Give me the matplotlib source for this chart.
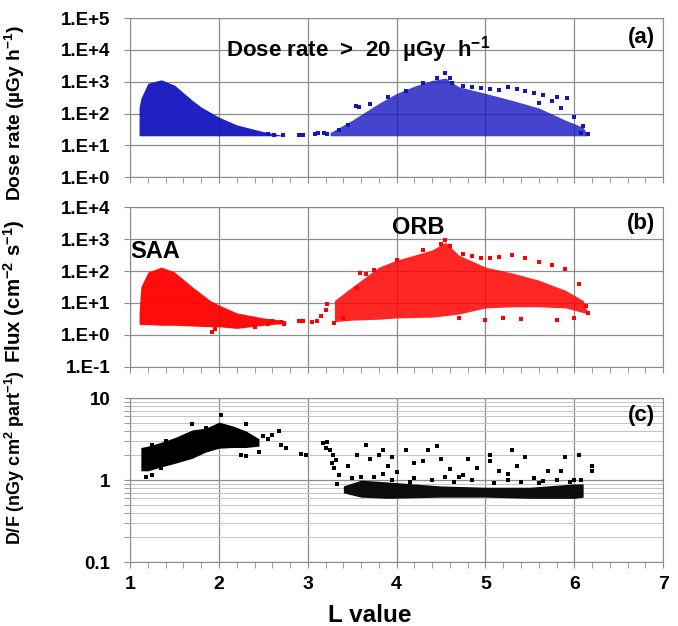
import matplotlib
matplotlib.use("Agg")
import matplotlib.pyplot as plt
from matplotlib.ticker import FixedLocator, NullFormatter, MultipleLocator

plt.rcParams["font.family"] = ["Liberation Sans", "DejaVu Sans"]
plt.rcParams["font.weight"] = "bold"
plt.rcParams["axes.labelweight"] = "bold"
plt.rcParams["mathtext.fontset"] = "custom"
plt.rcParams["mathtext.rm"] = "Liberation Sans:bold"
plt.rcParams["mathtext.bf"] = "Liberation Sans:bold"
plt.rcParams["mathtext.it"] = "Liberation Sans:bold"
plt.rcParams["mathtext.default"] = "bf"

# ---- Data ----
# (a) dose rate envelopes, SAA and outer radiation belt
dose_saa_L = [1.10, 1.12, 1.20, 1.35, 1.50, 1.70, 1.80, 2.00, 2.20, 2.50, 2.70]
dose_saa_hi = [150, 300, 900, 1150, 780, 260, 160, 77, 44, 27, 21]
dose_orb_L = [3.25, 3.50, 3.80, 4.00, 4.20, 4.40, 4.55, 4.70, 5.00, 5.30, 5.60, 5.90, 6.10, 6.15]
dose_orb_hi = [25, 62, 210, 430, 730, 1100, 1300, 700, 430, 260, 150, 62, 37, 21]
dose_floor = 20
dose_pts_L = [2.55, 2.62, 2.72, 2.90, 2.95, 3.08, 3.12, 3.18, 3.22, 3.35, 3.45, 3.54, 3.58, 3.70,
              3.90, 4.10, 4.30, 4.45, 4.55, 4.60, 4.62, 4.75, 4.85, 4.95, 5.05, 5.15, 5.25, 5.35,
              5.45, 5.55, 5.65, 5.80, 5.92, 5.75, 5.60, 5.85, 6.00, 6.10, 6.15, 6.08]
dose_pts_v = [22, 21, 21, 20.5, 20.5, 22, 24, 25, 23, 30, 45, 170, 165, 200,
              320, 500, 900, 1300, 1850, 1300, 900, 750, 700, 650, 600, 560, 700, 600,
              520, 450, 380, 330, 300, 250, 220, 150, 80, 40, 22, 25]

# (b) flux envelopes
flux_saa_L = [1.10, 1.12, 1.20, 1.35, 1.50, 1.70, 1.90, 2.00, 2.20, 2.50, 2.75]
flux_saa_hi = [5, 32, 93, 133, 93, 32, 12, 8.6, 4.9, 3.4, 2.8]
flux_saa_lo = [2.2, 2.1, 2.1, 2.0, 2.0, 1.9, 1.8, 1.8, 1.6, 2.0, 2.3]
flux_orb_L = [3.30, 3.50, 3.80, 4.00, 4.20, 4.40, 4.55, 4.70, 5.00, 5.30, 5.60, 5.90, 6.10, 6.15]
flux_orb_hi = [12, 32, 133, 220, 316, 460, 800, 316, 133, 87, 52, 25, 12, 5]
flux_orb_lo = [2.6, 2.9, 3.1, 3.4, 3.5, 3.6, 4.0, 4.5, 7.0, 7.6, 7.6, 7.0, 5.0, 4.5]
flux_pts_L = [1.92, 1.95, 2.40, 2.55, 2.60, 2.70, 2.73, 2.90, 2.95, 3.05, 3.10, 3.15, 3.20, 3.22,
              3.30, 3.40, 3.55, 3.59, 3.65, 3.75, 4.00, 4.30, 4.50, 4.55, 4.60, 4.75, 4.85, 4.95,
              5.05, 5.15, 5.30, 5.45, 5.60, 5.75, 5.90, 6.05, 6.13, 6.15, 5.80, 5.40, 5.00, 4.70,
              5.20, 6.00]
flux_pts_v = [1.2, 1.5, 1.8, 2.2, 2.8, 2.6, 2.2, 2.8, 2.8, 2.5, 2.7, 4.0, 6.0, 9.0,
              2.4, 3.5, 30, 87, 80, 110, 230, 450, 700, 930, 600, 350, 300, 260,
              250, 280, 320, 250, 190, 150, 120, 40, 8, 5, 3.0, 3.2, 3.0, 3.3,
              3.5, 3.5]

# (c) dose/flux ratio envelopes
df_saa_L = [1.12, 1.20, 1.35, 1.50, 1.70, 1.85, 2.00, 2.15, 2.30, 2.45]
df_saa_hi = [2.5, 2.6, 2.9, 3.3, 4.1, 4.3, 5.1, 4.6, 4.0, 3.2]
df_saa_lo = [1.3, 1.3, 1.45, 1.6, 1.85, 2.2, 2.45, 2.5, 2.5, 2.6]
df_orb_L = [3.40, 3.60, 3.90, 4.50, 5.00, 5.50, 6.00, 6.10]
df_orb_hi = [0.85, 1.0, 0.95, 0.85, 0.82, 0.82, 0.9, 0.9]
df_orb_lo = [0.70, 0.62, 0.60, 0.62, 0.62, 0.60, 0.60, 0.62]
df_pts_L = [1.18, 1.25, 1.35, 1.25, 1.40, 1.70, 1.85, 2.02, 2.30, 2.25, 2.30, 2.45, 2.50, 2.55,
            2.60, 2.68, 2.70, 2.75, 2.92, 2.98,
            3.17, 3.20, 3.22, 3.25, 3.28, 3.27, 3.30, 3.32, 3.35, 3.33, 3.45, 3.55, 3.65, 3.70,
            3.80, 3.85, 3.90, 3.95, 4.00, 4.10, 4.20, 4.30, 4.35, 4.45, 4.50, 4.60, 4.75, 4.80,
            4.90, 5.05, 5.05, 5.15, 5.25, 5.30, 5.35, 5.45, 5.55, 5.70, 5.85, 5.90, 6.05, 6.20,
            6.20, 6.00, 4.70, 4.20, 3.60,
            3.50, 3.75, 3.95, 4.15, 4.40, 4.65, 4.85, 5.10, 5.40, 5.65, 5.80, 5.95, 6.08, 3.85,
            4.55, 5.25, 5.60]
df_pts_v = [1.1, 1.15, 1.4, 2.7, 3.0, 4.8, 4.3, 6.2, 4.8, 2.0, 1.95, 2.2, 3.5, 3.2,
            3.6, 4.0, 2.7, 2.5, 2.1, 2.0,
            2.8, 2.5, 2.9, 2.3, 2.0, 1.6, 1.4, 1.75, 1.15, 0.9, 1.5, 2.0, 2.7, 1.8,
            2.0, 2.3, 1.5, 1.9, 1.25, 2.3, 1.6, 1.7, 2.3, 2.6, 1.8, 1.35, 1.15, 1.8,
            1.4, 2.0, 1.7, 1.3, 1.2, 2.3, 1.5, 1.9, 1.05, 1.3, 1.3, 1.9, 2.0, 1.5,
            1.3, 1.0, 1.1, 1.05, 1.1,
            1.05, 1.1, 1.0, 0.95, 1.0, 0.95, 1.0, 0.92, 0.95, 0.98, 1.0, 0.95, 1.0, 1.2,
            1.1, 1.0, 0.92]

a_ticks = [1e0, 1e1, 1e2, 1e3, 1e4, 1e5]
a_labels = ["1.E+0", "1.E+1", "1.E+2", "1.E+3", "1.E+4", "1.E+5"]
b_ticks = [1e-1, 1e0, 1e1, 1e2, 1e3, 1e4]
b_labels = ["1.E-1", "1.E+0", "1.E+1", "1.E+2", "1.E+3", "1.E+4"]
c_ticks = [0.1, 1, 10]
c_labels = ["0.1", "1", "10"]
x_ticks = [1, 2, 3, 4, 5, 6, 7]

BLUE = "#1515C0"
RED = "#FF0000"
BLACK = "#000000"

fig = plt.figure(figsize=(6.78, 6.26), dpi=100)
ax_a = fig.add_axes([0.192, 0.717, 0.786, 0.254])
ax_b = fig.add_axes([0.192, 0.414, 0.786, 0.255])
ax_c = fig.add_axes([0.192, 0.102, 0.786, 0.262])


def style(ax, ticks, labels):
    ax.set_yscale("log")
    ax.set_ylim(ticks[0], ticks[-1])
    ax.set_xlim(1, 7)
    ax.yaxis.set_major_locator(FixedLocator(ticks))
    ax.set_yticklabels(labels, fontweight="bold")
    ax.yaxis.set_minor_formatter(NullFormatter())
    ax.xaxis.set_major_locator(MultipleLocator(1))
    ax.xaxis.set_minor_locator(MultipleLocator(0.2))
    ax.grid(which="major", axis="both", color="#8c8c8c", lw=0.9)
    ax.grid(which="minor", axis="y", color="#c4c4c4", lw=0.7)
    ax.set_axisbelow(True)
    for s in ax.spines.values():
        s.set_color("#8c8c8c")
    ax.tick_params(which="both", direction="out", color="#8c8c8c", labelsize=13.5, length=4)
    ax.tick_params(axis="y", which="major", pad=10)
    ax.tick_params(axis="x", which="major", pad=6)


style(ax_a, a_ticks, a_labels)
style(ax_b, b_ticks, b_labels)
style(ax_c, c_ticks, c_labels)
for ax in (ax_a, ax_b):
    ax.set_xticklabels([])
ax_c.set_xticks(x_ticks)
ax_c.set_xticklabels([str(v) for v in x_ticks], fontweight="bold", fontsize=14)

# (a)
ax_a.fill_between(dose_saa_L, dose_floor, dose_saa_hi, color=BLUE, lw=0, alpha=0.95)
ax_a.fill_between(dose_orb_L, dose_floor, dose_orb_hi, color=BLUE, lw=0, alpha=0.8)
ax_a.scatter(dose_pts_L, dose_pts_v, marker="s", s=5, color=BLUE, lw=0)
ax_a.text(0.18, 0.8, r"Dose rate  >  20  µGy  h$^{-1}$", transform=ax_a.transAxes,
          fontsize=16, fontweight="bold", va="center", ha="left")
ax_a.text(0.985, 0.88, "(a)", transform=ax_a.transAxes, fontsize=16, fontweight="bold",
          ha="right", va="center")
ax_a.set_ylabel(r"Dose rate (µGy h$^{-1}$)", fontsize=13.8)
ax_a.yaxis.set_label_coords(-0.193, 0.40)

# (b)
ax_b.fill_between(flux_saa_L, flux_saa_lo, flux_saa_hi, color=RED, lw=0, alpha=0.95)
ax_b.fill_between(flux_orb_L, flux_orb_lo, flux_orb_hi, color=RED, lw=0, alpha=0.85)
ax_b.scatter(flux_pts_L, flux_pts_v, marker="s", s=5, color=RED, lw=0)
ax_b.text(0.0, 0.72, "SAA", transform=ax_b.transAxes, fontsize=17, fontweight="bold",
          ha="left", va="center")
ax_b.text(0.54, 0.875, "ORB", transform=ax_b.transAxes, fontsize=17, fontweight="bold",
          ha="center", va="center")
ax_b.text(0.985, 0.9, "(b)", transform=ax_b.transAxes, fontsize=16, fontweight="bold",
          ha="right", va="center")
ax_b.set_ylabel(r"Flux (cm$^{-2}$ s$^{-1}$)", fontsize=14.8)
ax_b.yaxis.set_label_coords(-0.193, 0.475)

# (c)
ax_c.fill_between(df_saa_L, df_saa_lo, df_saa_hi, color=BLACK, lw=0)
ax_c.fill_between(df_orb_L, df_orb_lo, df_orb_hi, color=BLACK, lw=0, alpha=0.95)
ax_c.scatter(df_pts_L, df_pts_v, marker="s", s=5, color=BLACK, lw=0)
ax_c.text(0.985, 0.896, "(c)", transform=ax_c.transAxes, fontsize=16, fontweight="bold",
          ha="right", va="center")
ax_c.set_ylabel(r"D/F (nGy cm$^{2}$ part$^{-1}$)", fontsize=13)
ax_c.yaxis.set_label_coords(-0.193, 0.64)
ax_c.text(0.45, -0.323, "L value", transform=ax_c.transAxes, fontsize=17.5,
          fontweight="bold", ha="center", va="center")

fig.savefig("out.png", dpi=100)
